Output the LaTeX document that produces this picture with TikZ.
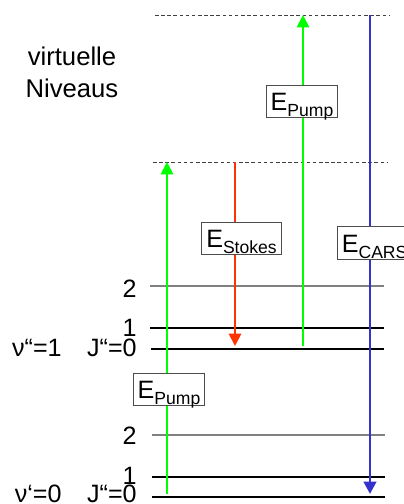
\documentclass[tikz,border=0pt]{standalone}
\usepackage{fontspec}
\setmainfont{Liberation Sans}
\usetikzlibrary{arrows.meta}
\definecolor{pumpgreen}{RGB}{0,255,0}
\definecolor{stokesred}{RGB}{255,51,0}
\definecolor{carsblue}{RGB}{51,51,204}
\newcommand{\ener}[1]{E\raisebox{-3.4pt}{\fontsize{10}{10}\selectfont #1}}
\tikzset{
  ebox/.style={draw=black!70, fill=white, line width=0.5pt, inner xsep=2.5pt, inner ysep=0.5pt,
    text height=14.2pt, text depth=3.5pt, font=\fontsize{14.3}{16}\selectfont},
  lbl/.style={anchor=base east, inner sep=0pt, font=\fontsize{14.3}{16}\selectfont},
  tip/.style={-{Triangle[length=7pt,width=7pt]}},
  virt/.style={black!75, line width=0.5pt, dash pattern=on 2pt off 1.5pt}
}
\begin{document}
\begin{tikzpicture}[x=0.02cm,y=-0.02cm]
  \clip (0,0) rectangle (404,504);
  % virtuelle Niveaus
  \draw[virt] (155,15) -- (389,15);
  \draw[virt] (153,162) -- (387,162);
  \node[anchor=base, inner sep=0pt, font=\fontsize{14.6}{16}\selectfont] (virt1) at (72,65) {virtuelle};
  \node[anchor=base, inner sep=0pt, font=\fontsize{14.6}{16}\selectfont] (virt2) at (72,97) {Niveaus};
  % v''=1
  \draw[gray, line width=0.8pt] (150,286) -- (384,286);
  \draw[line width=1.1pt] (150,328) -- (384,328);
  \draw[line width=1.7pt] (151,349) -- (384,349);
  \node[lbl] (u2) at (137,297) {2};
  \node[lbl] (u1) at (137,336) {1};
  \node[lbl] (nu1) at (62,356) {ν“=1};
  \node[lbl] (ju) at (137,356) {J“=0};
  % v'=0
  \draw[gray, line width=0.8pt] (152,435) -- (385,435);
  \draw[line width=1.1pt] (152,477) -- (385,477);
  \draw[line width=1.7pt] (152,497) -- (385,497);
  \node[lbl] (l2) at (137,444) {2};
  \node[lbl] (l1) at (137,484) {1};
  \node[lbl] (nu0) at (62,502) {ν‘=0};
  \node[lbl] (jl) at (137,502) {J“=0};
  % Uebergaenge
  \coordinate (pa0) at (167,494); \coordinate (pa1) at (167,162);
  \coordinate (st0) at (235,162); \coordinate (st1) at (235,346);
  \coordinate (pb0) at (303,346); \coordinate (pb1) at (303,15);
  \coordinate (ca0) at (370,15);  \coordinate (ca1) at (370,494);
  \draw[tip, pumpgreen, line width=1.1pt] (pa0) -- (pa1);
  \draw[tip, stokesred, line width=1.1pt] (st0) -- (st1);
  \draw[tip, pumpgreen, line width=1.1pt] (pb0) -- (pb1);
  \draw[tip, carsblue, line width=1.7pt] (ca0) -- (ca1);
  \node[ebox] (pumpb) at (302,101.5) {\ener{Pump}};
  \node[ebox] (stokes) at (241.5,238.5) {\ener{Stokes}};
  \node[ebox, anchor=west] (cars) at (337,243) {\ener{CARS}};
  \node[ebox] (pumpa) at (169,389.5) {\ener{Pump}};
\end{tikzpicture}
\end{document}
